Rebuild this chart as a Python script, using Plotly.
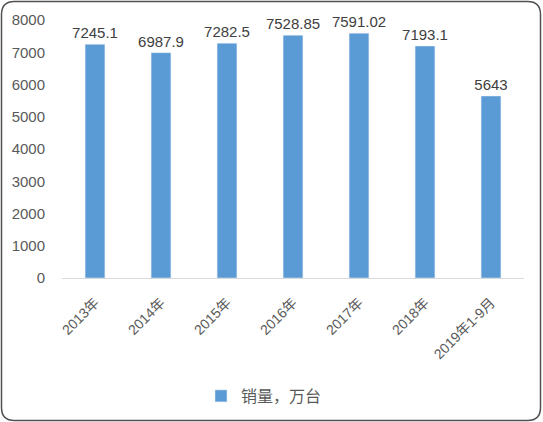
import plotly.graph_objects as go

categories = ["2013年", "2014年", "2015年", "2016年", "2017年", "2018年", "2019年1-9月"]
sales = [7245.1, 6987.9, 7282.5, 7528.85, 7591.02, 7193.1, 5643]
labels = ["7245.1", "6987.9", "7282.5", "7528.85", "7591.02", "7193.1", "5643"]

W, H = 543, 422
L, R, T, B = 62, 19, 20, 144
pw, ph = W - L - R, H - T - B


def px(x):
    return (x - L) / pw


def py(y):
    return (H - B - y) / ph


# rounded outer border, drawn in pixel terms then mapped to paper
x0, x1, y0, y1, rad = 1.5, 540.5, 1.5, 420.5, 13
path = (
    f"M {px(x0 + rad)} {py(y0)} L {px(x1 - rad)} {py(y0)} "
    f"Q {px(x1)} {py(y0)} {px(x1)} {py(y0 + rad)} "
    f"L {px(x1)} {py(y1 - rad)} Q {px(x1)} {py(y1)} {px(x1 - rad)} {py(y1)} "
    f"L {px(x0 + rad)} {py(y1)} Q {px(x0)} {py(y1)} {px(x0)} {py(y1 - rad)} "
    f"L {px(x0)} {py(y0 + rad)} Q {px(x0)} {py(y0)} {px(x0 + rad)} {py(y0)} Z"
)

font = "Liberation Sans, Noto Sans CJK SC, sans-serif"

fig = go.Figure()
fig.add_trace(go.Bar(
    x=categories, y=sales, name="销量，万台",
    marker=dict(color="#5B9BD5"),
    text=labels, textposition="outside", cliponaxis=False, constraintext="none",
    textfont=dict(size=15, color="#404040", family=font),
))

fig.update_layout(
    width=W, height=H,
    margin=dict(l=L, r=R, t=T, b=B, autoexpand=False),
    paper_bgcolor="white", plot_bgcolor="white",
    bargap=0.70,
    font=dict(family=font, color="#595959", size=13),
    showlegend=True,
    legend=dict(orientation="h", x=px(201), xanchor="left", y=py(396), yanchor="middle",
                font=dict(size=16, color="#595959")),
    xaxis=dict(tickangle=-45, showline=True, linecolor="#D9D9D9", linewidth=1,
               tickfont=dict(size=14, color="#595959"), ticks="", automargin=False,
               ticklabelstandoff=10),
    yaxis=dict(range=[0, 8000], dtick=1000, showgrid=False, zeroline=False, automargin=False,
               tickfont=dict(size=15, color="#595959"), ticks="", ticklabelstandoff=16),
    shapes=[dict(type="path", path=path, xref="paper", yref="paper",
                 line=dict(color="#505050", width=1.5), layer="above")],
)

fig.write_html("out.html", config={"displayModeBar": False},
               post_script="document.body.style.margin='0';")
